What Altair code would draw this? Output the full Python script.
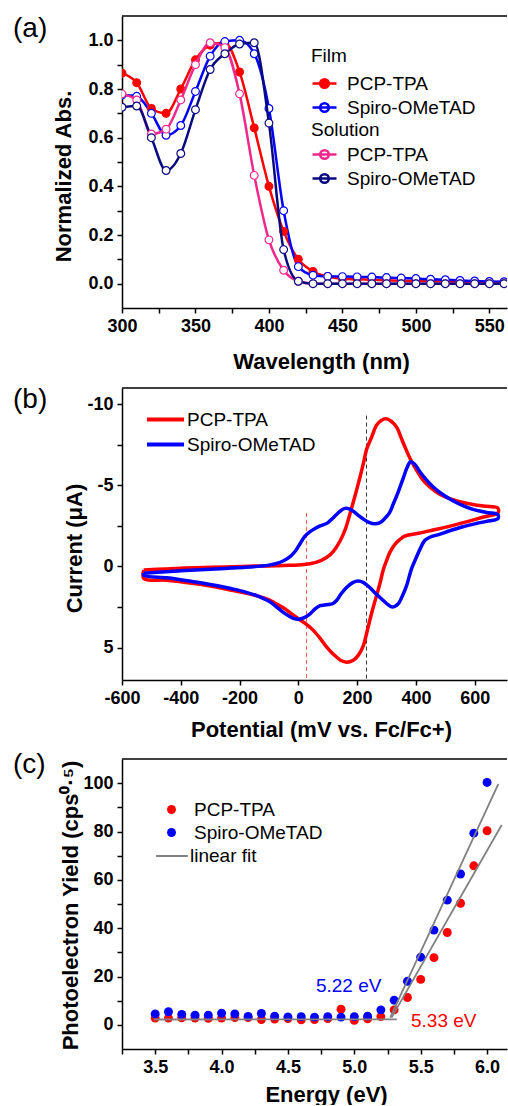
import altair as alt
import pandas as pd

FONT = "Liberation Sans"
RED, BLUE, PINK, NAVY, GRAY = "#FF0000", "#0000FF", "#F0288C", "#0A0A80", "#808080"
NAMES = ["PCP-TPA", "Spiro-OMeTAD"]

# ---------------- (a) absorption ----------------
wavelength = [300, 310, 320, 330, 340, 350, 360, 370, 380, 390, 400, 410, 420, 430,
              440, 450, 460, 470, 480, 490, 500, 510, 520, 530, 540, 550, 560]
film_pcp_tpa = [0.865, 0.826, 0.72, 0.70, 0.80, 0.92, 0.98, 0.99, 0.87, 0.64, 0.40, 0.215, 0.10, 0.05,
                0.03, 0.02, 0.018, 0.016, 0.014, 0.012, 0.011, 0.010, 0.009, 0.008, 0.007, 0.006, 0.005]
film_spiro = [0.775, 0.77, 0.70, 0.61, 0.65, 0.79, 0.935, 0.995, 1.0, 0.945, 0.72, 0.30, 0.07, 0.035,
              0.03, 0.029, 0.028, 0.027, 0.025, 0.023, 0.021, 0.018, 0.016, 0.013, 0.011, 0.009, 0.008]
sol_pcp_tpa = [0.78, 0.755, 0.615, 0.635, 0.755, 0.90, 0.99, 0.97, 0.78, 0.445, 0.18, 0.055, 0.01, 0.0,
               0.0, 0.0, 0.0, 0.0, 0.0, 0.0, 0.0, 0.0, 0.0, 0.0, 0.0, 0.0, 0.0]
sol_spiro = [0.725, 0.73, 0.60, 0.465, 0.535, 0.715, 0.88, 0.945, 0.985, 0.99, 0.66, 0.14, 0.01, 0.0,
             0.0, 0.0, 0.0, 0.0, 0.0, 0.0, 0.0, 0.0, 0.0, 0.0, 0.0, 0.0, 0.0]
a_xticks = [300, 325, 350, 375, 400, 425, 450, 475, 500, 525, 550]
a_yticks = [0.0, 0.1, 0.2, 0.3, 0.4, 0.5, 0.6, 0.7, 0.8, 0.9, 1.0]

# ---------------- (b) cyclic voltammetry ----------------
cv_pcp_pot = [-526, -450, -350, -250, -150, -50, 20, 60, 96, 120, 142, 160, 175, 192, 209, 222, 232,
              250, 266, 282, 298, 316, 334, 355, 379, 400, 425, 450, 481, 520, 572, 630, 679,
              679, 630, 572, 520, 459, 410, 379, 360, 345, 328, 311, 300, 289, 277, 266, 255, 243,
              232, 221, 205, 187, 164, 145, 130, 113, 96, 75, 51, 30, 6, -25, -51, -80, -108, -160,
              -221, -280, -334, -400, -447, -526, -526]
cv_pcp_cur = [0.22, 0.15, 0.08, 0.03, -0.02, -0.06, -0.12, -0.25, -0.55, -0.95, -1.57, -2.3, -3.2,
              -4.3, -5.45, -6.4, -7.2, -8.0, -8.7, -9.0, -9.1, -8.95, -8.6, -7.7, -6.7, -6.0, -5.3,
              -4.85, -4.45, -4.15, -3.9, -3.72, -3.6,
              -3.3, -3.05, -2.75, -2.5, -2.25, -2.05, -1.95, -1.85, -1.65, -1.35, -0.85, -0.35, 0.2,
              1.1, 1.8, 2.5, 3.33, 4.15, 4.9, 5.45, 5.78, 5.9, 5.8, 5.58, 5.3, 4.96, 4.45, 3.94, 3.6,
              3.3, 2.9, 2.55, 2.25, 2.0, 1.72, 1.49, 1.27, 1.1, 0.95, 0.85, 0.74, 0.22]
cv_spiro_pot = [-526, -450, -350, -250, -180, -130, -100, -74, -50, -28, -10, 6, 22, 40, 58, 74, 90,
                102, 116, 130, 145, 159, 173, 187, 204, 221, 240, 260, 278, 294, 310, 323, 340, 357,
                370, 382, 396, 413, 435, 459, 490, 526, 560, 594, 640, 679,
                679, 640, 606, 560, 515, 480, 447, 430, 415, 400, 385, 368, 352, 340, 320, 305, 289,
                265, 243, 222, 204, 185, 164, 145, 130, 118, 108, 90, 74, 58, 40, 20, 0, -14, -28,
                -50, -74, -100, -142, -180, -221, -280, -334, -400, -447, -526, -526]
cv_spiro_cur = [0.42, 0.32, 0.22, 0.12, 0.05, -0.02, -0.08, -0.18, -0.35, -0.6, -0.95, -1.4, -1.85,
                -2.15, -2.35, -2.5, -2.6, -2.72, -2.95, -3.2, -3.45, -3.58, -3.55, -3.4, -3.15,
                -2.92, -2.72, -2.63, -2.7, -2.95, -3.3, -3.85, -4.6, -5.45, -6.1, -6.45, -6.3,
                -5.85, -5.35, -4.9, -4.45, -4.05, -3.75, -3.52, -3.33, -3.2,
                -2.95, -2.78, -2.65, -2.45, -2.2, -1.98, -1.8, -1.6, -1.1, -0.5, 0.15, 1.2, 1.9,
                2.3, 2.5, 2.35, 2.1, 1.7, 1.3, 1.0, 0.9, 1.0, 1.3, 1.7, 2.1, 2.28, 2.33, 2.38,
                2.42, 2.6, 2.92, 3.15, 3.25, 3.22, 3.1, 2.85, 2.5, 2.15, 1.8, 1.58, 1.4, 1.18, 1.0,
                0.82, 0.7, 0.55, 0.42]
dash_pot = [28, 232]
dash_top = [-3.3, -9.3]
dash_bottom = [7, 7]
dash_color = ["#FF5050", "#333333"]
b_xticks = [-600, -500, -400, -300, -200, -100, 0, 100, 200, 300, 400, 500, 600, 700]
b_yticks = [-10, -7.5, -5, -2.5, 0, 2.5, 5]

# ---------------- (c) photoelectron yield ----------------
energy = [3.5, 3.6, 3.7, 3.8, 3.9, 4.0, 4.1, 4.2, 4.3, 4.4, 4.5, 4.6, 4.7, 4.8, 4.9, 5.0, 5.1,
          5.2, 5.3, 5.4, 5.5, 5.6, 5.7, 5.8, 5.9, 6.0]
pys_pcp_tpa = [2.8, 2.8, 2.9, 2.8, 2.7, 2.8, 3.0, 3.0, 2.2, 2.4, 2.6, 2.1, 2.2, 2.6, 6.5, 1.9, 2.5,
               3.4, 6.2, 11.3, 18.8, 27.8, 38.2, 50.3, 65.8, 80.3]
pys_spiro = [4.5, 5.4, 4.3, 4.0, 4.0, 4.8, 4.5, 3.5, 4.7, 3.6, 3.3, 3.4, 3.2, 3.4, 3.2, 3.4, 3.6,
             6.2, 10.2, 18.0, 28.0, 39.2, 51.6, 62.4, 79.3, 100.3]
fit_seg = ["base", "base", "spiro", "spiro", "pcp", "pcp"]
fit_e = [3.49, 5.32, 5.27, 6.085, 5.28, 6.11]
fit_y = [2.2, 2.3, 3.0, 99.7, 3.0, 82.7]
anno_text = ["5.22 eV", "5.33 eV"]
anno_e = [4.711, 5.427]
anno_y = [13.7, -0.8]
anno_color = [BLUE, RED]
c_xticks = [3.25, 3.5, 3.75, 4.0, 4.25, 4.5, 4.75, 5.0, 5.25, 5.5, 5.75, 6.0]
c_yticks = [0, 10, 20, 30, 40, 50, 60, 70, 80, 90, 100]

W = 385
H_A, H_B, H_C = 292, 292, 290


def panel_label(txt, y):
    return alt.Chart(pd.DataFrame({"t": [txt]})).mark_text(
        font=FONT, fontSize=28, align="left", baseline="alphabetic", color="black"
    ).encode(text="t:N", x=alt.value(-109), y=alt.value(y))


def top_rule():
    return alt.Chart(pd.DataFrame({"d": [0]})).mark_rule(color="black", strokeWidth=1.5).encode(
        x=alt.value(0), x2=alt.value(W), y=alt.value(0))


# ----- panel a -----
n = len(wavelength)
film_df = pd.DataFrame({"wl": wavelength * 2, "val": film_pcp_tpa + film_spiro,
                        "series": [NAMES[0]] * n + [NAMES[1]] * n})
sol_df = pd.DataFrame({"wl": wavelength * 2, "val": sol_pcp_tpa + sol_spiro,
                       "series": [NAMES[0]] * n + [NAMES[1]] * n})

xa = alt.X("wl:Q", scale=alt.Scale(domain=[300, 562], nice=False, zero=False),
           axis=alt.Axis(values=a_xticks, labelExpr="datum.value % 50 == 0 ? datum.label : ''",
                         title="Wavelength (nm)", titleX=199, titleY=60,
                         titleBaseline="alphabetic", titleAlign="center"))
ya = alt.Y("val:Q", scale=alt.Scale(domain=[-0.1, 1.1], nice=False, zero=False),
           axis=alt.Axis(values=a_yticks,
                         labelExpr="round(datum.value*10) % 2 == 0 ? format(datum.value, '.1f') : ''",
                         title="Normalized Abs.", titleX=-59, titleY=160, titleAngle=-90,
                         titleBaseline="middle", titleAlign="center"))

SYM = "M-1,0H1M0.36,0A0.36,0.36,0,1,1,-0.36,0A0.36,0.36,0,1,1,0.36,0Z"
LINE_SYM = "M-1.5,0H1.5"


def legend_a(title, y, tpad):
    return alt.Legend(title=title, orient="none", legendX=189, legendY=y, symbolType=SYM,
                      symbolSize=576, symbolStrokeWidth=2.5, labelOffset=9, titlePadding=tpad,
                      rowPadding=0, padding=0, titleFont=FONT, titleFontSize=19,
                      titleFontWeight="normal", labelFont=FONT, labelFontSize=19,
                      titleColor="black", labelColor="black")


def abs_layer(df, title, ly, tpad, colors, fills):
    stroke = alt.Stroke("series:N", scale=alt.Scale(domain=NAMES, range=colors),
                        legend=legend_a(title, ly, tpad))
    fill = alt.Fill("series:N", scale=alt.Scale(domain=NAMES, range=fills),
                    legend=legend_a(title, ly, tpad))
    line = alt.Chart(df).mark_line(strokeWidth=2.5, interpolate="monotone", clip=True).encode(
        x=xa, y=ya, stroke=stroke, detail="series:N")
    pts = alt.Chart(df).mark_point(size=60, strokeWidth=1.2, opacity=1, fillOpacity=1,
                                   filled=False, clip=True, shape="circle").encode(
        x=xa, y=ya, stroke=stroke, fill=fill)
    return alt.layer(line, pts)


panel_a = alt.layer(
    abs_layer(film_df, "Film", 31, 4, [RED, BLUE], [RED, "white"]),
    abs_layer(sol_df, "Solution", 105, 1, [PINK, NAVY], ["white", "white"]),
    top_rule(), panel_label("(a)", 21),
).resolve_scale(stroke="independent", fill="independent").properties(width=W, height=H_A)

# ----- panel b -----
cv_df = pd.DataFrame({
    "pot": cv_pcp_pot + cv_spiro_pot, "cur": cv_pcp_cur + cv_spiro_cur,
    "series": [NAMES[0]] * len(cv_pcp_pot) + [NAMES[1]] * len(cv_spiro_pot),
    "idx": list(range(len(cv_pcp_pot))) + list(range(len(cv_spiro_pot))),
})
dash_df = pd.DataFrame({"pot": dash_pot, "top": dash_top, "bottom": dash_bottom, "col": dash_color})

xs_b = alt.Scale(domain=[-600, 710], nice=False, zero=False)
ys_b = alt.Scale(domain=[-11, 7], nice=False, zero=False, reverse=True)
xb = alt.X("pot:Q", scale=xs_b,
           axis=alt.Axis(values=b_xticks, labelExpr="datum.value % 200 == 0 ? '' + datum.value : ''",
                         title="Potential (mV vs. Fc/Fc+)", titleX=199, titleY=56,
                         titleBaseline="alphabetic", titleAlign="center"))
yb = alt.Y("cur:Q", scale=ys_b,
           axis=alt.Axis(values=b_yticks, labelExpr="datum.value % 5 == 0 ? '' + datum.value : ''",
                         title="Current (μA)", titleX=-48, titleY=160, titleAngle=-90,
                         titleBaseline="middle", titleAlign="center"))

cv_line = alt.Chart(cv_df).mark_line(strokeWidth=3.5, interpolate="catmull-rom").encode(
    x=xb, y=yb,
    stroke=alt.Stroke("series:N", scale=alt.Scale(domain=NAMES, range=[RED, BLUE]),
                      legend=alt.Legend(title=None, orient="none", legendX=29, legendY=17,
                                        symbolType=LINE_SYM, symbolSize=608, symbolStrokeWidth=4,
                                        labelOffset=7, rowPadding=0, padding=0, labelFont=FONT,
                                        labelFontSize=19, labelColor="black")),
    order="idx:Q")
dash = alt.Chart(dash_df).mark_rule(strokeDash=[4, 3], strokeWidth=1).encode(
    x=alt.X("pot:Q", scale=xs_b), y=alt.Y("top:Q", scale=ys_b), y2="bottom:Q",
    color=alt.Color("col:N", scale=None))

panel_b = alt.layer(dash, cv_line, top_rule(), panel_label("(b)", 20)).properties(width=W, height=H_B)

# ----- panel c -----
m = len(energy)
pys_df = pd.DataFrame({"e": energy * 2, "y": pys_pcp_tpa + pys_spiro,
                       "series": [NAMES[0]] * m + [NAMES[1]] * m})
fit_df = pd.DataFrame({"e": fit_e, "y": fit_y, "seg": fit_seg, "fit": ["linear fit"] * len(fit_e)})
anno_df = pd.DataFrame({"e": anno_e, "y": anno_y, "t": anno_text, "c": anno_color})

xs_c = alt.Scale(domain=[3.25, 6.15], nice=False, zero=False)
ys_c = alt.Scale(domain=[-10, 110], nice=False, zero=False)
xc = alt.X("e:Q", scale=xs_c,
           axis=alt.Axis(values=c_xticks,
                         labelExpr="abs(datum.value*2 - round(datum.value*2)) < 0.01 ? format(datum.value, '.1f') : ''",
                         title="Energy (eV)", titleX=204, titleY=52,
                         titleBaseline="alphabetic", titleAlign="center"))
yc = alt.Y("y:Q", scale=ys_c,
           axis=alt.Axis(values=c_yticks, labelExpr="datum.value % 20 == 0 ? datum.label : ''",
                         title="Photoelectron Yield (cps⁰·⁵)", titleX=-52, titleY=146, titleAngle=-90,
                         titleBaseline="middle", titleAlign="center"))

pys_pts = alt.Chart(pys_df).mark_circle(size=80, opacity=1).encode(
    x=xc, y=yc,
    color=alt.Color("series:N", scale=alt.Scale(domain=NAMES, range=[RED, BLUE]),
                    legend=alt.Legend(title=None, orient="none", legendX=40, legendY=41,
                                      symbolType="circle", symbolSize=80, labelOffset=13,
                                      rowPadding=3, padding=0, labelFont=FONT, labelFontSize=19,
                                      labelColor="black")))
fit_line = alt.Chart(fit_df).mark_line(strokeWidth=1.8).encode(
    x=xc, y=yc, detail="seg:N",
    color=alt.Color("fit:N", scale=alt.Scale(domain=["linear fit"], range=[GRAY]),
                    legend=alt.Legend(title=None, orient="none", legendX=33, legendY=80,
                                      symbolType="stroke", symbolSize=1000, symbolStrokeWidth=2,
                                      labelOffset=1, padding=0, labelFont=FONT, labelFontSize=19,
                                      labelColor="black")))
anno = alt.Chart(anno_df).mark_text(font=FONT, fontSize=19, align="left", baseline="alphabetic").encode(
    x=xc, y=yc, text="t:N", color=alt.Color("c:N", scale=None))

panel_c = alt.layer(pys_pts, fit_line, anno, top_rule(), panel_label("(c)", 14)).resolve_scale(
    color="independent").properties(width=W, height=H_C)

top_two = alt.vconcat(panel_a, panel_b, spacing=14).resolve_scale(
    stroke="independent", fill="independent", color="independent")
chart = alt.vconcat(top_two, panel_c, spacing=11).resolve_scale(
    stroke="independent", fill="independent", color="independent"
).properties(
    padding={"left": 13, "top": 15, "right": 0, "bottom": 0}
).configure_view(stroke=None).configure_axis(
    labelFont=FONT, labelFontSize=18, labelFontWeight="bold", labelColor="black",
    titleFont=FONT, titleFontSize=22, titleFontWeight="bold", titleColor="black",
    domainColor="black", domainWidth=1.5, tickColor="black", tickWidth=1.5, tickSize=5,
    labelPadding=4, labelFlush=False, grid=False
)

chart.save("out.html", embed_options={"renderer": "svg", "actions": False})
